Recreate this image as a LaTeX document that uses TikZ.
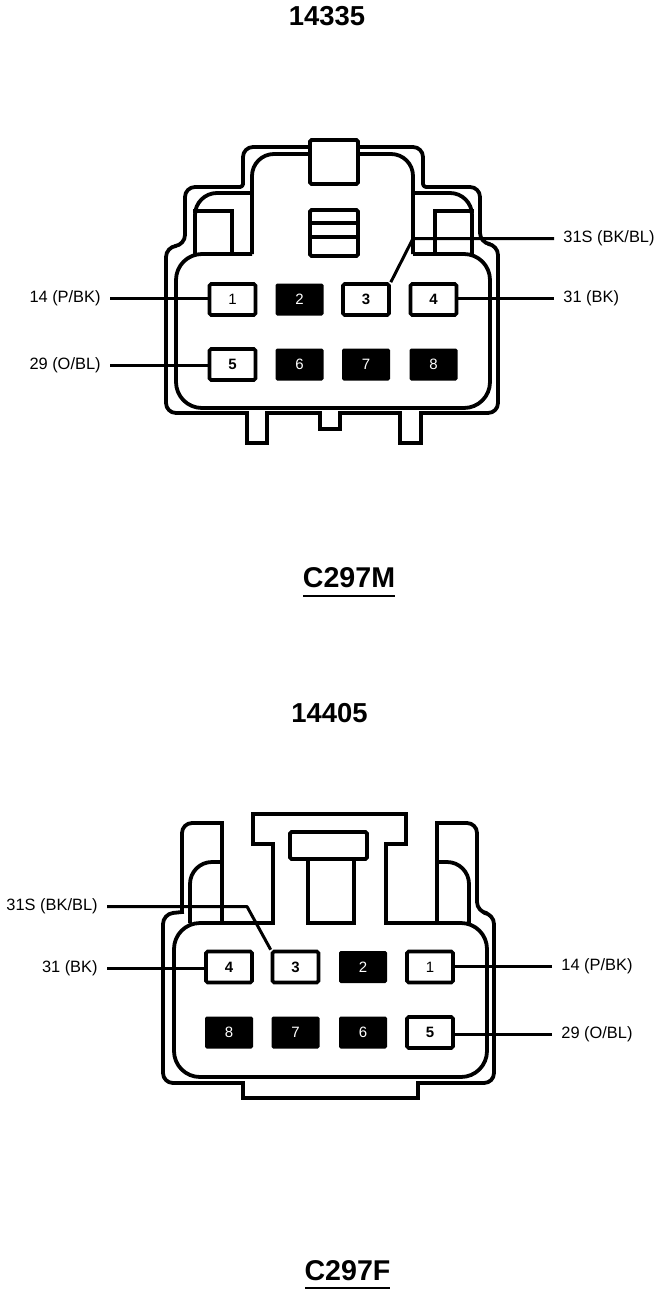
\documentclass[tikz,border=0pt]{standalone}
\usepackage{fontspec}
\setmainfont{Liberation Sans}
\tikzset{
  x=0.5pt,y=-0.5pt,
  wall/.style={line width=1.9pt,line join=round,line cap=rect,rounded corners=5pt},
  sharp/.style={line width=1.9pt,line join=miter,line cap=rect},
  wire/.style={line width=1.5pt,line join=round},
  pinbase/.style={minimum width=23pt,minimum height=15.5pt,inner sep=0pt,font=\fontsize{7.5}{8}\selectfont,rounded corners=0.8pt},
  livepin/.style={pinbase,draw,fill=white,line width=1.8pt,font=\fontsize{7.5}{8}\selectfont\bfseries},
  plainpin/.style={livepin,font=\fontsize{7.5}{8}\selectfont},
  deadpin/.style={pinbase,fill=black,text=white,minimum width=24pt,minimum height=16pt},
  wirelabel/.style={font=\fontsize{8.2}{9}\selectfont,inner xsep=4.5pt,inner ysep=0pt},
  title/.style={font=\fontsize{13.7}{15}\selectfont\bfseries,inner sep=0pt},
  conname/.style={font=\fontsize{14.3}{16}\selectfont\bfseries,inner sep=0pt,text depth=0pt},
}
\begin{document}
\begin{tikzpicture}
\useasboundingbox (0,0) rectangle (672,1296);
\fill[white] (0,0) rectangle (672,1296);

% ---------- upper connector ----------
\node[title] (t1) at (327,16) {14335};
\draw[wall] (310,147) -- (243,147) [rounded corners=1.5pt] -- (243,187) [rounded corners=5pt] -- (185,187) -- (185,245)
  -- (166,247) -- (166,413) -- (247,413);
\draw[sharp] (247,413) -- (247,443) -- (267,443) -- (267,413)
  -- (320,413) -- (320,429) -- (340,429) -- (340,413) -- (400,413) -- (400,443) -- (421,443) -- (421,413);
\draw[wall] (421,413) -- (498,413) -- (498,245) -- (480,243) -- (480,187) [rounded corners=1.5pt] -- (423,187) [rounded corners=5pt] -- (423,147) -- (358,147);
\draw[line width=1.9pt,rounded corners=13pt,line join=round] (252,254) -- (176,254) -- (176,408) -- (490,408) -- (490,254) -- (413,254);
\draw[line width=1.9pt,rounded corners=11pt,line join=round] (252,254) -- (252,154) -- (310,154);
\draw[line width=1.9pt,rounded corners=11pt,line join=round] (358,154) -- (413,154) -- (413,254);
\draw[sharp,rounded corners=0.8pt,fill=white] (310,140) rectangle (358,184);
\draw[line width=1.9pt,rounded corners=11pt] (195,254) -- (195,193) -- (252,193);
\draw[line width=1.9pt,rounded corners=11pt] (413,193) -- (472,193) -- (472,254);
\draw[sharp] (195,211) -- (232,211) -- (232,254);
\draw[sharp] (472,211) -- (435,211) -- (435,254);
\draw[sharp,rounded corners=0.8pt] (310,210) rectangle (358,256);
\draw[sharp] (310,223) -- (358,223) (310,237) -- (358,237);

\node[plainpin] (a1) at (232.5,299.5) {1};
\node[deadpin] (a2) at (299.5,299.5) {2};
\node[livepin] (a3) at (366,299.5) {3};
\node[livepin] (a4) at (433.5,299.5) {4};
\node[livepin] (a5) at (232.5,364.5) {5};
\node[deadpin] (a6) at (299.5,364.5) {6};
\node[deadpin] (a7) at (366,364.5) {7};
\node[deadpin] (a8) at (433.5,364.5) {8};

\node[wirelabel,anchor=east] (la1) at (110,298.5) {14 (P/BK)};
\node[wirelabel,anchor=east] (la5) at (110,365.5) {29 (O/BL)};
\node[wirelabel,anchor=west] (la3) at (554,238.5) {31S (BK/BL)};
\node[wirelabel,anchor=west] (la4) at (554,298.5) {31 (BK)};
\coordinate (ba3) at (413,238.5);
\draw[wire] (la1.east) -- (a1.west |- la1.east);
\draw[wire] (la5.east) -- (a5.west |- la5.east);
\draw[wire] (la4.west) -- (a4.east |- la4.west);
\draw[wire] (la3.west) -- (ba3) -- (a3.north east);

\node[conname] (n1) at (349,578) {C297M};
\coordinate (u1a) at (303,596);
\coordinate (u1b) at (395,596);
\draw[line width=0.9pt] (u1a) -- (u1b);

% ---------- lower connector ----------
\node[title] (t2) at (329.5,713) {14405};
\draw[wall] (182,912) -- (182,823) -- (222,823);
\draw[sharp] (222,823) -- (222,923);
\draw[wall] (182,912) -- (163,914) -- (163,1083) -- (243,1083);
\draw[sharp] (243,1083) -- (243,1098) -- (418,1098) -- (418,1083);
\draw[wall] (418,1083) -- (494,1083) -- (494,914) -- (477,912) -- (477,823) -- (437,823);
\draw[sharp] (437,823) -- (437,923);
\draw[sharp] (273,923) -- (273,844) -- (253,844) -- (253,814) -- (406,814) -- (406,844) -- (386,844) -- (386,923);
\draw[line width=1.9pt,rounded corners=13pt,line join=round] (273,923) -- (174,923) -- (174,1077) -- (487,1077) -- (487,923) -- (386,923);
\draw[line width=1.9pt,rounded corners=11pt] (190,923) -- (190,862) -- (222,862);
\draw[line width=1.9pt,rounded corners=11pt] (437,862) -- (469,862) -- (469,923);
\draw[sharp] (308,859) -- (308,923) -- (354,923) -- (354,859);
\draw[sharp,rounded corners=0.8pt,fill=white] (290,832) rectangle (367,859);

\node[livepin] (b4) at (229,967) {4};
\node[livepin] (b3) at (295.5,967) {3};
\node[deadpin] (b2) at (363,967) {2};
\node[plainpin] (b1) at (430,967) {1};
\node[deadpin] (b8) at (229,1032.5) {8};
\node[deadpin] (b7) at (295.5,1032.5) {7};
\node[deadpin] (b6) at (363,1032.5) {6};
\node[livepin] (b5) at (430,1032.5) {5};

\node[wirelabel,anchor=east] (lb3) at (107,906.5) {31S (BK/BL)};
\node[wirelabel,anchor=east] (lb4) at (107,968.5) {31 (BK)};
\node[wirelabel,anchor=west] (lb1) at (552,966.5) {14 (P/BK)};
\node[wirelabel,anchor=west] (lb5) at (552,1034.5) {29 (O/BL)};
\coordinate (bb3) at (247,906.5);
\draw[wire] (lb4.east) -- (b4.west |- lb4.east);
\draw[wire] (lb1.west) -- (b1.east |- lb1.west);
\draw[wire] (lb5.west) -- (b5.east |- lb5.west);
\draw[wire] (lb3.east) -- (bb3) -- (b3.north west);

\node[conname] (n2) at (347.5,1270) {C297F};
\coordinate (u2a) at (305,1288);
\coordinate (u2b) at (390,1288);
\draw[line width=0.9pt] (u2a) -- (u2b);
\end{tikzpicture}
\end{document}
